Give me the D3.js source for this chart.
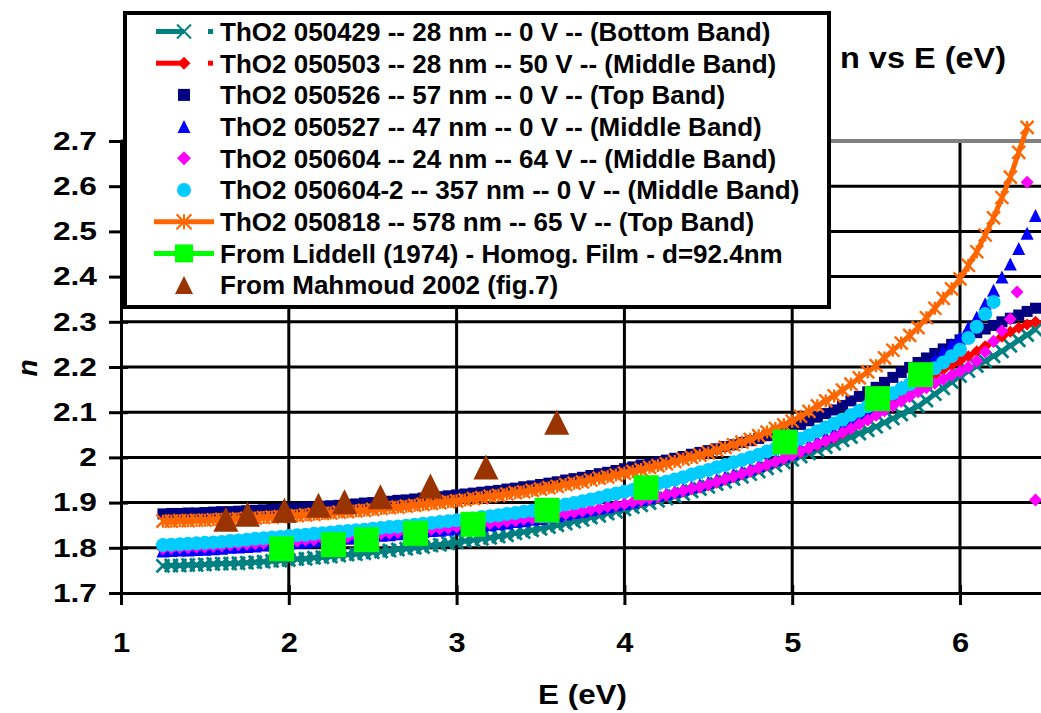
<!DOCTYPE html>
<html><head><meta charset="utf-8">
<script src="https://cdn.jsdelivr.net/npm/d3@7"></script>
<style>body{margin:0;background:#fff;} svg{display:block;}</style>
</head><body><svg id="c" width="1041" height="713"></svg>
<script>
const energies = [1.25,1.3,1.35,1.4,1.45,1.5,1.55,1.6,1.65,1.7,1.75,1.8,1.85,1.9,1.95,2,2.05,2.1,2.15,2.2,2.25,2.3,2.35,2.4,2.45,2.5,2.55,2.6,2.65,2.7,2.75,2.8,2.85,2.9,2.95,3,3.05,3.1,3.15,3.2,3.25,3.3,3.35,3.4,3.45,3.5,3.55,3.6,3.65,3.7,3.75,3.8,3.85,3.9,3.95,4,4.05,4.1,4.15,4.2,4.25,4.3,4.35,4.4,4.45,4.5,4.55,4.6,4.65,4.7,4.75,4.8,4.85,4.9,4.95,5,5.05,5.1,5.15,5.2,5.25,5.3,5.35,5.4,5.45,5.5,5.55,5.6,5.65,5.7,5.75,5.8,5.85,5.9,5.95,6,6.05,6.1,6.15,6.2,6.25,6.3,6.35,6.4,6.45];

const n050429 = [1.760,1.761,1.761,1.762,1.762,1.763,
1.764,1.765,1.765,1.766,1.767, 1.768,1.769,1.771,1.772,1.773,
1.775,1.776,1.778,1.779,1.781, 1.783,1.785,1.786,1.788,1.790,
1.792,1.794,1.796,1.798,1.800, 1.802,1.805,1.807,1.810,1.812,
1.815,1.817,1.820,1.822,1.825, 1.828,1.832,1.835,1.839,1.842,
1.846,1.850,1.854,1.858,1.862, 1.867,1.871,1.876,1.880,1.885,
1.890,1.894,1.899,1.904,1.909, 1.914,1.919,1.925,1.930,1.935,
1.941,1.946,1.952,1.957,1.963, 1.969,1.976,1.982,1.989,1.995,
2.002,2.009,2.016,2.023,2.030, 2.038,2.045,2.053,2.060,2.068,
2.077,2.086,2.095,2.104,2.113, 2.126,2.140,2.153,2.167,2.180,
2.191,2.202,2.213,2.224,2.235, 2.247,2.259,2.271,2.283];

const n050503 = [1.796,1.797,1.798,1.798,1.799,1.800,
1.801,1.802,1.804,1.805,1.806, 1.807,1.808,1.810,1.811,1.812,
1.813,1.815,1.816,1.818,1.819, 1.821,1.822,1.824,1.825,1.827,
1.829,1.830,1.832,1.833,1.835, 1.837,1.839,1.840,1.842,1.844,
1.846,1.848,1.850,1.852,1.854, 1.856,1.858,1.861,1.863,1.865,
1.868,1.871,1.873,1.876,1.879, 1.882,1.885,1.889,1.892,1.895,
1.899,1.903,1.907,1.911,1.915, 1.920,1.924,1.929,1.933,1.938,
1.944,1.950,1.956,1.962,1.968, 1.975,1.982,1.989,1.996,2.003,
2.011,2.019,2.027,2.035,2.043, 2.053,2.063,2.073,2.083,2.093,
2.106,2.119,2.132,2.145,2.158, 2.170,2.182,2.194,2.204,2.213,
2.224,2.235,2.246,2.256,2.267, 2.278,2.287,2.294,2.300];

const n050526 = [1.875,1.876,1.876,1.877,1.877,1.878,
1.879,1.880,1.880,1.881,1.882, 1.883,1.884,1.885,1.886,1.887,
1.888,1.889,1.891,1.892,1.893, 1.894,1.896,1.897,1.899,1.900,
1.902,1.903,1.905,1.906,1.908, 1.910,1.912,1.913,1.915,1.917,
1.919,1.921,1.923,1.925,1.927, 1.930,1.932,1.935,1.937,1.940,
1.943,1.946,1.950,1.953,1.956, 1.960,1.964,1.967,1.971,1.975,
1.979,1.983,1.986,1.990,1.994, 1.998,2.002,2.007,2.011,2.015,
2.019,2.024,2.028,2.033,2.037, 2.042,2.048,2.053,2.059,2.065,
2.073,2.081,2.089,2.097,2.105, 2.115,2.125,2.135,2.145,2.155,
2.166,2.177,2.188,2.199,2.210, 2.220,2.230,2.240,2.250,2.260,
2.268,2.276,2.284,2.292,2.300, 2.308,2.315,2.323,2.330];

const n050527 = [1.793,1.794,1.795,1.795,1.796,1.797,
1.798,1.799,1.801,1.802,1.803, 1.804,1.806,1.807,1.809,1.810,
1.812,1.813,1.815,1.816,1.818, 1.820,1.821,1.823,1.824,1.826,
1.828,1.829,1.831,1.832,1.834, 1.836,1.838,1.839,1.841,1.843,
1.845,1.847,1.849,1.851,1.853, 1.855,1.858,1.860,1.863,1.865,
1.868,1.871,1.875,1.878,1.881, 1.884,1.888,1.891,1.895,1.898,
1.902,1.907,1.911,1.916,1.920, 1.925,1.930,1.935,1.940,1.945,
1.951,1.957,1.963,1.969,1.975, 1.982,1.989,1.996,2.003,2.010,
2.019,2.028,2.037,2.046,2.055, 2.066,2.078,2.089,2.101,2.112,
2.127,2.141,2.156,2.170,2.185, 2.201,2.217,2.234,2.250,2.266,
2.288,2.310,2.340,2.370,2.399, 2.428,2.462,2.496,2.535];

const n050604 = [1.798,1.799,1.800,1.800,1.801,1.802,
1.803,1.804,1.806,1.807,1.808, 1.809,1.810,1.812,1.813,1.814,
1.815,1.817,1.818,1.820,1.821, 1.823,1.824,1.826,1.827,1.829,
1.831,1.832,1.834,1.835,1.837, 1.839,1.841,1.842,1.844,1.846,
1.848,1.850,1.852,1.854,1.856, 1.858,1.860,1.863,1.865,1.867,
1.870,1.873,1.875,1.878,1.881, 1.884,1.887,1.891,1.894,1.897,
1.901,1.905,1.909,1.913,1.917, 1.922,1.926,1.931,1.935,1.940,
1.946,1.952,1.958,1.964,1.970, 1.977,1.984,1.991,1.998,2.005,
2.013,2.021,2.029,2.037,2.045, 2.055,2.064,2.074,2.083,2.093,
2.103,2.114,2.124,2.135,2.145, 2.154,2.164,2.173,2.182,2.190,
2.200,2.213,2.233,2.257,2.280, 2.306];
const extraE050604 = [6.34, 6.40, 6.45];
const extraN050604 = [2.366, 2.609, 1.906];

const n050604b = [1.806,1.807,1.808,1.809,1.810,1.811,
1.812,1.813,1.815,1.816,1.818, 1.820,1.821,1.823,1.824,1.826,
1.828,1.829,1.831,1.832,1.834, 1.836,1.837,1.839,1.840,1.842,
1.844,1.846,1.847,1.849,1.851, 1.853,1.855,1.857,1.859,1.861,
1.863,1.865,1.868,1.870,1.872, 1.875,1.877,1.880,1.882,1.885,
1.889,1.892,1.896,1.899,1.903, 1.907,1.911,1.916,1.920,1.924,
1.928,1.933,1.937,1.942,1.946, 1.951,1.956,1.962,1.967,1.972,
1.978,1.983,1.989,1.994,2.000, 2.006,2.013,2.019,2.026,2.032,
2.041,2.049,2.058,2.066,2.075, 2.084,2.094,2.103,2.113,2.122,
2.132,2.142,2.152,2.162,2.172, 2.185,2.197,2.210,2.224,2.238,
2.264,2.289,2.317,2.344];

const n050818 = [1.859,1.859,1.860,1.860,1.861,1.861,
1.862,1.863,1.863,1.864,1.865, 1.866,1.867,1.868,1.869,1.870,
1.871,1.873,1.874,1.876,1.877, 1.879,1.880,1.882,1.883,1.885,
1.887,1.889,1.890,1.892,1.894, 1.896,1.898,1.900,1.902,1.904,
1.906,1.909,1.911,1.914,1.916, 1.919,1.922,1.924,1.927,1.930,
1.933,1.936,1.940,1.943,1.946, 1.950,1.954,1.957,1.961,1.965,
1.969,1.973,1.978,1.982,1.986, 1.991,1.996,2.000,2.005,2.010,
2.016,2.022,2.028,2.034,2.040, 2.048,2.056,2.064,2.072,2.080,
2.091,2.102,2.114,2.125,2.136, 2.149,2.162,2.176,2.189,2.203,
2.220,2.237,2.253,2.270,2.287, 2.309,2.330,2.352,2.373,2.395,
2.425,2.455,2.492,2.530,2.575, 2.620,2.675,2.730];

const liddellE = [1.957,2.266,2.463,2.755,3.098,3.539,4.129,4.957,5.508,5.765];
const liddellN = [1.798,1.807,1.818,1.832,1.852,1.883,1.933,2.034,2.130,2.183];
const mahmoudE = [1.625,1.754,1.974,2.177,2.332,2.546,2.844,3.175,3.597];
const mahmoudN = [1.863,1.874,1.883,1.894,1.902,1.913,1.937,1.979,2.078];

const xTicks = [1,2,3,4,5,6];
const yTicks = [1.7,1.8,1.9,2,2.1,2.2,2.3,2.4,2.5,2.6,2.7];
const seriesNames = [
 "ThO2 050429 -- 28 nm -- 0 V -- (Bottom Band)",
 "ThO2 050503 -- 28 nm -- 50 V -- (Middle Band)",
 "ThO2 050526 -- 57 nm -- 0 V -- (Top Band)",
 "ThO2 050527 -- 47 nm -- 0 V -- (Middle Band)",
 "ThO2 050604 -- 24 nm -- 64 V -- (Middle Band)",
 "ThO2 050604-2 -- 357 nm -- 0 V -- (Middle Band)",
 "ThO2 050818 -- 578 nm -- 65 V -- (Top Band)",
 "From Liddell (1974) - Homog. Film - d=92.4nm",
 "From Mahmoud 2002 (fig.7)"];
const seriesColors = ["#008080","#FF0000","#000080","#0000FF","#FF00FF","#00CCFF","#FF6600","#00FF00","#993300"];

const FONT = "'Liberation Sans', Arial, Helvetica, sans-serif";
const W = 1041, H = 713;
const svg = d3.select("#c");
svg.append("rect").attr("width", W).attr("height", H).attr("fill", "#fff");

const x = d3.scaleLinear().domain([1, 6.5]).range([121, 1043.9]);
const y = d3.scaleLinear().domain([1.7, 2.7]).range([593, 141]);

// gridlines
const gh = svg.append("g");
gh.selectAll("line").data(yTicks.filter(v => v > 1.75 && v < 2.65)).join("line")
  .attr("x1", x(1)).attr("x2", x(6.5)).attr("y1", d => y(d)).attr("y2", d => y(d))
  .attr("stroke", "#000").attr("stroke-width", 3);
const gv = svg.append("g");
gv.selectAll("line").data(xTicks.filter(v => v > 1)).join("line")
  .attr("x1", d => x(d)).attr("x2", d => x(d)).attr("y1", y(1.7)).attr("y2", y(2.7))
  .attr("stroke", "#000").attr("stroke-width", 3);
svg.append("line").attr("x1", x(1)).attr("x2", x(6.5)).attr("y1", y(2.7)).attr("y2", y(2.7))
  .attr("stroke", "#808080").attr("stroke-width", 4);

// axes
const ya = svg.append("g").attr("transform", `translate(${x(1)},0)`)
  .call(d3.axisLeft(y).tickValues(yTicks).tickSize(12).tickSizeOuter(0).tickPadding(12)
    .tickFormat(d => String(+d.toFixed(1))));
const xa = svg.append("g").attr("transform", `translate(0,${y(1.7)})`)
  .call(d3.axisBottom(x).tickValues(xTicks).tickSize(12).tickSizeOuter(0).tickPadding(12)
    .tickFormat(d => String(d)));
[ya, xa].forEach(a => {
  a.attr("font-family", FONT).attr("font-weight", "bold");
  a.select(".domain").attr("stroke", "#000").attr("stroke-width", 3);
  a.selectAll(".tick line").attr("stroke", "#000").attr("stroke-width", 3);
  a.selectAll(".tick text").attr("fill", "#000");
});
ya.attr("font-size", 26);
ya.selectAll(".tick line").attr("x1", 7).attr("x2", -12);
xa.attr("font-size", 28);
xa.selectAll(".tick line").attr("y1", -8).attr("y2", 12);
xa.selectAll(".tick text").attr("y", 59).attr("dy", 0);
function stretch(sel, k) {
  sel.each(function () {
    const w = this.getComputedTextLength();
    d3.select(this).attr("textLength", w * k).attr("lengthAdjust", "spacingAndGlyphs");
  });
}
stretch(ya.selectAll(".tick text"), 1.22);
stretch(xa.selectAll(".tick text"), 1.1);

// axis titles
svg.append("text").attr("x", 582.5).attr("y", 704).attr("text-anchor", "middle")
  .attr("font-family", FONT).attr("font-weight", "bold").attr("font-size", 28)
  .attr("textLength", 89).attr("lengthAdjust", "spacingAndGlyphs").text("E (eV)");
svg.append("text").attr("transform", "translate(37,368) rotate(-90)").attr("text-anchor", "middle")
  .attr("font-family", FONT).attr("font-weight", "bold").attr("font-style", "italic").attr("font-size", 28)
  .text("n");
svg.append("text").attr("x", 840).attr("y", 68)
  .attr("font-family", FONT).attr("font-weight", "bold").attr("font-size", 29)
  .attr("textLength", 166).attr("lengthAdjust", "spacingAndGlyphs").text("n vs E (eV)");

// marker shapes
function markerPath(type, s) {
  const h = s / 2;
  switch (type) {
    case "square": return `M${-h},${-h}h${s}v${s}h${-s}Z`;
    case "diamond": return `M0,${-h}L${h},0L0,${h}L${-h},0Z`;
    case "triangle": return `M0,${-h}L${h},${h}L${-h},${h}Z`;
    case "x": return `M${-h},${-h}L${h},${h}M${-h},${h}L${h},${-h}`;
    case "star": return `M${-h},${-h}L${h},${h}M${-h},${h}L${h},${-h}M0,${-h}V${h}`;
    case "circle": return d3.symbol(d3.symbolCircle, Math.PI * h * h)();
  }
}
const strokeMarkers = {x: true, star: true};

const seriesVals = [n050429, n050503, n050526, n050527, n050604, n050604b, n050818];
const markerTypes = ["x", "diamond", "square", "triangle", "diamond", "circle", "star", "square", "triangle"];
const markerSizes = [13, 12, 11, 13, 13, 14, 13, 25, 25];
const markerStrokes = [2.8, 0, 0, 0, 0, 0, 2.4, 0, 0];
const hasLine = [true, true, false, false, false, false, true, false, false];

function seriesData(i) {
  if (i < 7) {
    const pts = seriesVals[i].map((v, j) => ({e: energies[j], n: v}));
    if (i === 4) extraE050604.forEach((e, j) => pts.push({e: e, n: extraN050604[j]}));
    return pts;
  }
  if (i === 7) return liddellE.map((e, j) => ({e: e, n: liddellN[j]}));
  return mahmoudE.map((e, j) => ({e: e, n: mahmoudN[j]}));
}

const line = d3.line().x(d => x(d.e)).y(d => y(d.n));
const plot = svg.append("g");
seriesNames.forEach((name, i) => {
  const data = seriesData(i);
  const col = seriesColors[i];
  const g = plot.append("g");
  if (hasLine[i]) {
    g.append("path").datum(data).attr("d", line).attr("fill", "none")
      .attr("stroke", col).attr("stroke-width", 5).attr("stroke-linejoin", "round");
  }
  const t = markerTypes[i];
  g.selectAll("path.m").data(data).join("path").attr("class", "m")
    .attr("transform", d => `translate(${x(d.e)},${y(d.n)})`)
    .attr("d", markerPath(t, markerSizes[i]))
    .attr("fill", strokeMarkers[t] ? "none" : col)
    .attr("stroke", strokeMarkers[t] ? col : "none")
    .attr("stroke-width", markerStrokes[i]);
});

// legend
const lg = svg.append("g");
lg.append("rect").attr("x", 125).attr("y", 13).attr("width", 704).attr("height", 294)
  .attr("fill", "#fff").attr("stroke", "#000").attr("stroke-width", 4);
const legendMarkerSizes = [14, 13, 12, 13, 14, 14, 15, 18, 18];
seriesNames.forEach((name, i) => {
  const cy = 31.5 + i * 31.7;
  const col = seriesColors[i];
  const g = lg.append("g");
  if (i === 0 || i === 1) {
    g.append("line").attr("x1", 156).attr("x2", 184).attr("y1", cy).attr("y2", cy)
      .attr("stroke", col).attr("stroke-width", 5);
    g.append("rect").attr("x", 208).attr("y", cy - 2.5).attr("width", 5).attr("height", 5).attr("fill", col);
  } else if (hasLine[i] || i === 7) {
    g.append("line").attr("x1", 154).attr("x2", 214).attr("y1", cy).attr("y2", cy)
      .attr("stroke", col).attr("stroke-width", 5);
  }
  const t = markerTypes[i];
  g.append("path").attr("transform", `translate(184,${cy})`)
    .attr("d", markerPath(t, legendMarkerSizes[i]))
    .attr("fill", strokeMarkers[t] ? "none" : col)
    .attr("stroke", strokeMarkers[t] ? col : "none")
    .attr("stroke-width", strokeMarkers[t] ? 2 : 0);
  g.append("text").attr("x", 220).attr("y", cy + 9.3)
    .attr("font-family", FONT).attr("font-weight", "bold").attr("font-size", 26)
    .attr("fill", "#000").text(name);
});
</script>
</body></html>
